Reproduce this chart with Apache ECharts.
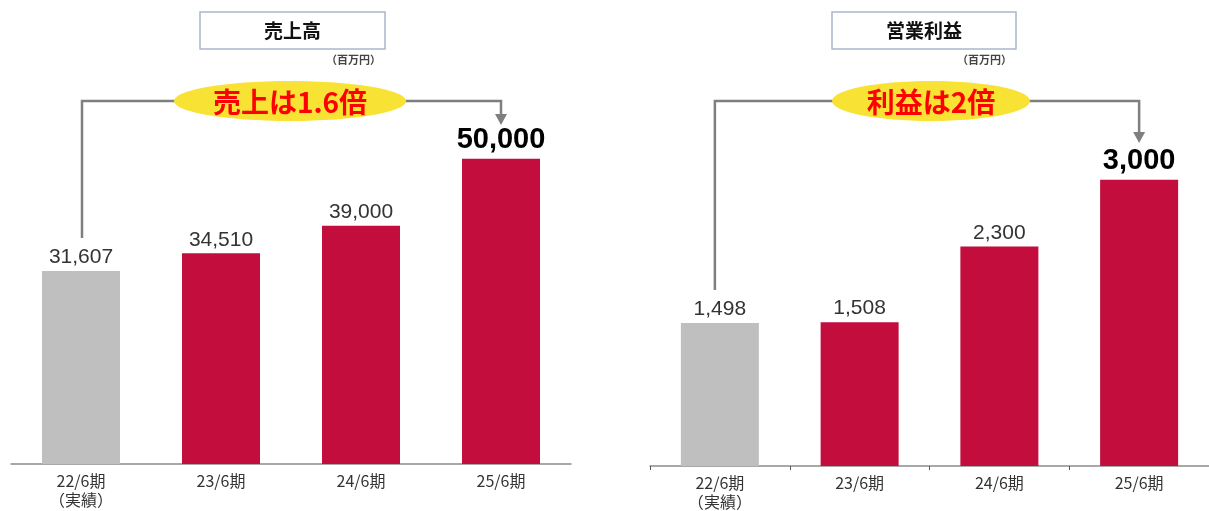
<!DOCTYPE html>
<html><head><meta charset="utf-8">
<script src="https://cdn.jsdelivr.net/npm/echarts@6/dist/echarts.min.js"></script>
<style>html,body{margin:0;padding:0;background:#fff}#c{width:1209px;height:511px}</style>
</head><body><div id="c"></div>
<script>
const categories = ['22/6期\n（実績）', '23/6期', '24/6期', '25/6期'];
const salesValues = [31607, 34510, 39000, 50000];
const profitValues = [1498, 1508, 2300, 3000];
const salesTitle = '売上高';
const profitTitle = '営業利益';
const unitText = '（百万円）';
const salesCallout = '売上は1.6倍';
const profitCallout = '利益は2倍';

const RED = '#c30d3d', GRAY = '#bfbfbf';
const CJK = '"Noto Sans CJK JP", sans-serif';
const NUM = '"Liberation Sans", sans-serif';

function items(vals) {
  return vals.map((v, i) => {
    const last = i === vals.length - 1;
    return {
      value: v,
      itemStyle: { color: i === 0 ? GRAY : RED },
      label: last ? { fontSize: 29, fontWeight: 'bold', color: '#000', fontFamily: NUM, distance: 4 } : {}
    };
  });
}
const baseLabel = {
  show: true, position: 'top', distance: 3, fontSize: 21, color: '#333', fontFamily: NUM,
  formatter: p => p.value.toLocaleString('en-US')
};
const xCommon = {
  type: 'category', data: categories,
  axisLine: { lineStyle: { color: '#8c8c8c', width: 1.5 } },
  axisLabel: { fontFamily: CJK, fontSize: 16, color: '#333', lineHeight: 19, margin: 7, interval: 0 },
  splitLine: { show: false }
};
const yCommon = { type: 'value', min: 0, show: false, splitLine: { show: false } };

const chart = echarts.init(document.getElementById('c'), null, { renderer: 'canvas' });
chart.setOption({
  animation: false,
  grid: [
    { left: 11, width: 560, top: 97.6, bottom: 47 },
    { left: 650, right: 0, top: 122.6, bottom: 44 }
  ],
  xAxis: [
    Object.assign({}, xCommon, { gridIndex: 0, axisTick: { show: false } }),
    Object.assign({}, xCommon, { gridIndex: 1, axisTick: { show: true, length: 4, lineStyle: { color: '#555' } } })
  ],
  yAxis: [
    Object.assign({}, yCommon, { gridIndex: 0, max: 60000 }),
    Object.assign({}, yCommon, { gridIndex: 1, max: 3600 })
  ],
  series: [
    { type: 'bar', xAxisIndex: 0, yAxisIndex: 0, barWidth: 78, data: items(salesValues), label: baseLabel },
    { type: 'bar', xAxisIndex: 1, yAxisIndex: 1, barWidth: 78, data: items(profitValues), label: baseLabel }
  ]
});

function px(gi, ci, v) {
  return chart.convertToPixel({ xAxisIndex: gi, yAxisIndex: gi }, [ci, v]);
}
function panel(gi, vals, title, callout, box, ell, leftX, leftBottom, arrowTip) {
  const lc = '#7f7f7f', lw = 2.5;
  const xFirst = px(gi, 0, vals[0])[0] + leftX;
  const xLast = px(gi, vals.length - 1, vals[vals.length - 1])[0];
  const yc = ell.cy;
  return [
    { type: 'rect', shape: { x: box.x, y: 12, width: box.w, height: 37 }, style: { fill: '#fff', stroke: '#a9b7cc', lineWidth: 1.5 } },
    { type: 'text', x: box.x + box.w / 2, y: 31, style: { text: title, font: 'bold 19px ' + CJK, fill: '#111', align: 'center', verticalAlign: 'middle' } },
    { type: 'text', x: box.x + box.w - 4, y: 60, style: { text: unitText, font: 'bold 11px ' + CJK, fill: '#444', align: 'right', verticalAlign: 'middle' } },
    { type: 'polyline', shape: { points: [[xFirst, leftBottom], [xFirst, yc], [ell.cx - ell.rx + 2, yc]] }, style: { stroke: lc, lineWidth: lw, fill: null } },
    { type: 'polyline', shape: { points: [[ell.cx + ell.rx - 2, yc], [xLast, yc], [xLast, arrowTip - 9]] }, style: { stroke: lc, lineWidth: lw, fill: null } },
    { type: 'polygon', shape: { points: [[xLast - 6, arrowTip - 11], [xLast + 6, arrowTip - 11], [xLast, arrowTip]] }, style: { fill: lc } },
    { type: 'ellipse', shape: { cx: ell.cx, cy: ell.cy, rx: ell.rx, ry: ell.ry }, style: { fill: '#f8e234' } },
    { type: 'text', x: ell.cx, y: ell.cy + 1, style: { text: callout, font: 'bold 28px ' + CJK, fill: '#ff0000', align: 'center', verticalAlign: 'middle' } }
  ];
}
chart.setOption({
  graphic: [].concat(
    panel(0, salesValues, salesTitle, salesCallout, { x: 200, w: 185 }, { cx: 290, cy: 101, rx: 116, ry: 20 }, 1, 238, 125),
    panel(1, profitValues, profitTitle, profitCallout, { x: 832, w: 184 }, { cx: 931, cy: 101, rx: 99, ry: 20 }, -5, 290, 143)
  )
});
</script></body></html>
